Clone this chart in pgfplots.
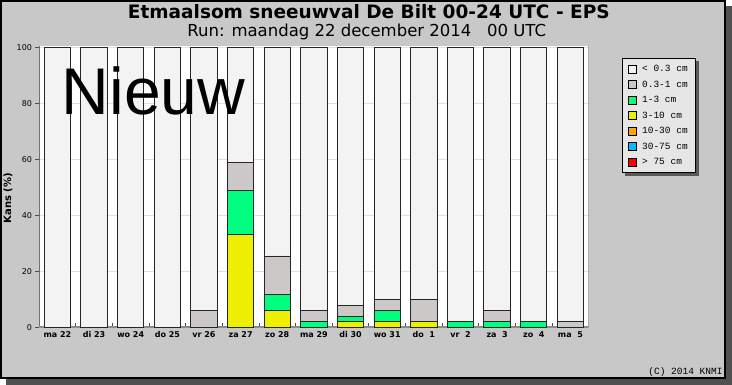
\documentclass[border=0pt]{standalone}
\usepackage{fontspec}
\setmainfont{DejaVu Sans}
\usepackage{pgfplots}
\usepackage{pgfplotstable}
\pgfplotsset{compat=1.18}
\newfontfamily\titlefont{DejaVu Sans}
\newfontfamily\nieuwfont{Liberation Sans}
\newfontfamily\monofont{Liberation Mono}
\pgfdeclarelayer{figbglayer}
\pgfdeclarelayer{shadowlayer}
\pgfsetlayers{figbglayer,shadowlayer,main}

\definecolor{figbg}{HTML}{C8C8C8}
\definecolor{shadowc}{HTML}{505050}
\definecolor{legbg}{HTML}{E6E6E6}
\definecolor{cwhite}{HTML}{F3F3F3}
\definecolor{cgrey}{HTML}{CCC8C8}
\definecolor{cgreen}{HTML}{00FF80}
\definecolor{cyellow}{HTML}{EEEE00}
\definecolor{corange}{HTML}{FFA500}
\definecolor{cblue}{HTML}{00BFFF}
\definecolor{cred}{HTML}{FF0000}

\pgfplotstableread{
x  red blue orange yellow green grey  white
0  0   0    0      0      0     0     100
1  0   0    0      0      0     0     100
2  0   0    0      0      0     0     100
3  0   0    0      0      0     0     100
4  0   0    0      0      0     5.88  94.12
5  0   0    0      33.33  15.69 9.80  41.18
6  0   0    0      5.88   5.88  13.73 74.51
7  0   0    0      0      1.96  3.92  94.12
8  0   0    0      1.96   1.96  3.92  92.16
9  0   0    0      1.96   3.92  3.92  90.20
10 0   0    0      1.96   0     7.84  90.20
11 0   0    0      0      1.96  0     98.04
12 0   0    0      0      1.96  3.92  94.12
13 0   0    0      0      1.96  0     98.04
14 0   0    0      0      0     1.96  98.04
}\snowdata

\begin{document}
\begin{tikzpicture}
\useasboundingbox (0pt,0pt) rectangle (732pt,385pt);
\begin{pgfonlayer}{figbglayer}
\fill[white] (0pt,0pt) rectangle (732pt,385pt);
\fill[shadowc] (6pt,0pt) rectangle (732pt,379pt);
\draw[line width=2pt, fill=figbg] (1pt,7pt) rectangle (725pt,384pt);
\end{pgfonlayer}

\node[anchor=base, inner sep=0pt, font=\titlefont\bfseries\fontsize{18.5}{20}\selectfont]
  at (368.8pt,366.5pt) {Etmaalsom sneeuwval De Bilt 00-24 UTC - EPS};
\node[anchor=base, inner sep=0pt, font=\fontsize{16.5}{18}\selectfont]
  at (366.7pt,348.3pt) {Run: maandag 22 december 2014\hspace{0.95em}00 UTC};

\begin{axis}[
  at={(39.5pt,57.7pt)}, anchor=south west,
  scale only axis, width=549.2pt, height=281.5pt,
  xmin=-0.49, xmax=14.5, ymin=0, ymax=100.6,
  ybar stacked, bar width=26.4pt,
  axis background/.style={fill=white},
  axis line style={draw=none},
  xtick={0,...,14},
  xticklabels={ma 22, di 23, wo 24, do 25, vr 26, za 27, zo 28, ma 29, di 30, wo 31, do\ \ 1, vr\ \ 2, za\ \ 3, zo\ \ 4, ma\ \ 5},
  minor xtick={0.5,1.5,...,13.5},
  ytick={0,20,...,100},
  ymajorgrids,
  grid style={draw=black!12, line width=0.8pt},
  tick pos=left,
  xtick align=inside, ytick align=outside,
  major tick length=4pt, minor tick length=4.5pt,
  major x tick style={draw=none},
  minor x tick style={draw=black!70, line width=0.8pt},
  major y tick style={draw=black!70, line width=0.8pt},
  /pgf/number format/assume math mode=true,
  xticklabel style={font=\bfseries\fontsize{8}{9}\selectfont, yshift=-1pt},
  yticklabel style={font=\fontsize{8}{9}\selectfont},
  ylabel={Kans (\%)},
  ylabel style={font=\bfseries\fontsize{10}{12}\selectfont, at={(axis description cs:-0.0574,0.459)}, anchor=center},
  legend style={name=snowlegend, at={(1.0605,0.9567)}, anchor=north west, draw=black, line width=0.8pt, fill=legbg,
    font=\monofont\fontsize{9.5}{11}\selectfont, row sep=3.6pt, inner xsep=6pt, inner ysep=5pt,
    cells={anchor=west},
    /tikz/every odd column/.append style={column sep=3pt}},
  legend image code/.code={\draw[#1, draw=black, line width=0.8pt] (0pt,-4pt) rectangle (8pt,4pt);},
  reverse legend,
  every axis plot/.append style={draw=black!85, line width=0.9pt},
]
\addplot[fill=cred] table[x=x,y=red]{\snowdata};
\addplot[fill=cblue] table[x=x,y=blue]{\snowdata};
\addplot[fill=corange] table[x=x,y=orange]{\snowdata};
\addplot[fill=cyellow] table[x=x,y=yellow]{\snowdata};
\addplot[fill=cgreen] table[x=x,y=green]{\snowdata};
\addplot[fill=cgrey] table[x=x,y=grey]{\snowdata};
\addplot[fill=cwhite] table[x=x,y=white]{\snowdata};
\legend{> 75 cm, 30-75 cm, 10-30 cm, 3-10 cm, 1-3 cm, 0.3-1 cm, < 0.3 cm}
\draw[black!45, line width=2pt] (rel axis cs:0,0) -- (rel axis cs:1,0);
\draw[black!85, line width=1.2pt] (rel axis cs:0,0) -- (rel axis cs:0,1);
\draw[black!50, line width=1.2pt] (rel axis cs:1,0) -- (rel axis cs:1,1);
\end{axis}

\begin{pgfonlayer}{shadowlayer}
\fill[black!65] ([shift={(3pt,-3pt)}]snowlegend.south west) rectangle ([shift={(3pt,-3pt)}]snowlegend.north east);
\end{pgfonlayer}

\node[anchor=base west, inner sep=0pt, font=\nieuwfont\fontsize{66}{66}\selectfont]
  at (61.5pt,270pt) {Nieuw};
\node[anchor=base east, inner sep=0pt, font=\monofont\fontsize{9.5}{10}\selectfont]
  at (722.7pt,10pt) {(C) 2014 KNMI};
\end{tikzpicture}
\end{document}
